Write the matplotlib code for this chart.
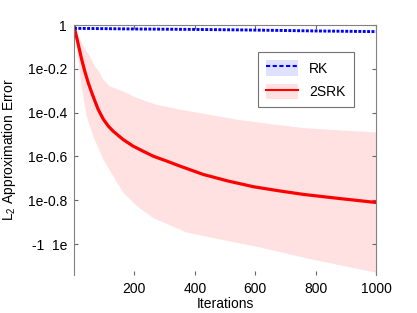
import numpy as np
import matplotlib
matplotlib.use('Agg')
from matplotlib import pyplot as plt
from matplotlib.lines import Line2D
from matplotlib.patches import Patch

plt.rcParams['font.family'] = ['Liberation Sans', 'DejaVu Sans']
plt.rcParams['font.size'] = 10
plt.rcParams['mathtext.default'] = 'regular'

# RK error (log10 exponents)
rk_iter = [0, 200, 400, 600, 800, 1000]
rk_log10 = [-0.015, -0.018, -0.020, -0.023, -0.027, -0.030]

# 2SRK mean error
srk_iter = [0, 3, 14, 25, 36, 47, 59, 70, 80, 97, 114, 130, 163, 196, 229,
            263, 307, 351, 428, 510, 594, 680, 759, 880, 1000]
srk_log10 = [0.0, -0.023, -0.088, -0.155, -0.213, -0.263, -0.31, -0.35,
             -0.385, -0.43, -0.462, -0.485, -0.523, -0.553, -0.576, -0.599,
             -0.621, -0.644, -0.682, -0.712, -0.738, -0.757, -0.773, -0.792,
             -0.81]

# 2SRK spread (upper / lower edges)
up_iter = [0, 14, 31, 53, 70, 86, 97, 119, 163, 208, 274, 351, 450, 539,
           650, 759, 880, 1000]
up_log10 = [0.0, -0.045, -0.098, -0.144, -0.189, -0.22, -0.25, -0.28, -0.303,
            -0.333, -0.364, -0.386, -0.41, -0.432, -0.452, -0.47, -0.481,
            -0.49]
lo_iter = [0, 9, 25, 42, 64, 97, 130, 163, 208, 263, 373, 506, 616, 781, 1000]
lo_log10 = [0.0, -0.098, -0.28, -0.417, -0.508, -0.614, -0.69, -0.765,
            -0.826, -0.882, -0.947, -0.985, -1.015, -1.068, -1.13]

ytick_exp = [0, -0.2, -0.4, -0.6, -0.8, -1.0]
ytick_labels = ['1', '1e-0.2', '1e-0.4', '1e-0.6', '1e-0.8', '-1  1e']
xticks = [200, 400, 600, 800, 1000]

pink = '#ffe1e1'
fig = plt.figure(figsize=(4.17, 3.13), dpi=100)
ax = fig.add_axes([0.1775, 0.1214, 0.7242, 0.7986])

band_x = up_iter + lo_iter[::-1]
band_y = list(10 ** np.array(up_log10)) + list(10 ** np.array(lo_log10[::-1]))
ax.fill(band_x, band_y, color=pink, lw=0)

ax.plot(srk_iter, 10 ** np.array(srk_log10), color='red', lw=2.3,
        solid_joinstyle='round')
ax.plot(rk_iter, 10 ** np.array(rk_log10), color='blue', lw=2.1,
        ls=(0, (1.0, 0.5)), dash_capstyle='butt')

ax.set_yscale('log')
ax.set_xlim(0, 1000)
ax.set_ylim(10 ** -1.141, 1)
ax.set_yticks([10 ** e for e in ytick_exp])
ax.set_yticklabels(ytick_labels)
ax.minorticks_off()
ax.set_xticks(xticks)

ax.tick_params(direction='in', top=True, right=True, length=3,
               color='0.4', labelsize=10, pad=5)
for side in ['left', 'top', 'right']:
    ax.spines[side].set_color('0.5')
ax.spines['bottom'].set_visible(False)

ax.set_xlabel('Iterations', labelpad=1)
ax.set_ylabel('L$_2$ Approximation Error', labelpad=7)

handles = [(Patch(facecolor='#e0e0ff', edgecolor='none'),
            Line2D([], [], color='blue', lw=1.5, ls=(0, (2, 1.2)))),
           (Patch(facecolor=pink, edgecolor='none'),
            Line2D([], [], color='red', lw=1.5))]
leg = ax.legend(handles, ['RK', '2SRK'], loc='upper right',
                bbox_to_anchor=(0.927, 0.892), borderaxespad=0,
                fancybox=False, edgecolor='0.45', framealpha=1,
                handlelength=2.3, handleheight=1.3, labelspacing=0.6,
                borderpad=0.6, fontsize=10)
leg.get_frame().set_linewidth(0.8)

fig.savefig('out.png', dpi=100)
